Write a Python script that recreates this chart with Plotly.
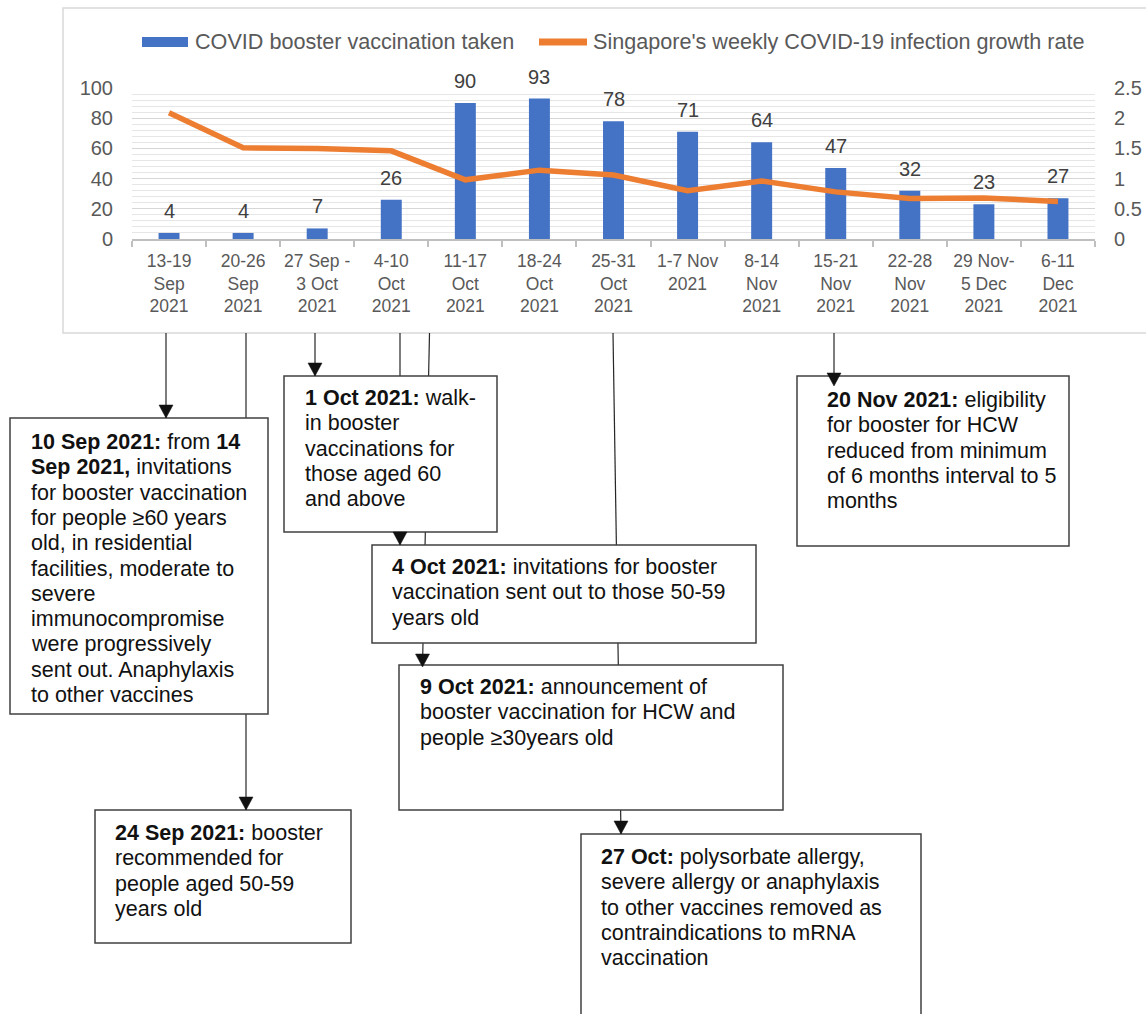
import plotly.graph_objects as go

W, H = 1146, 1014

# ---------------- data ----------------
weeks = [
    "13-19<br>Sep<br>2021", "20-26<br>Sep<br>2021", "27 Sep -<br>3 Oct<br>2021",
    "4-10<br>Oct<br>2021", "11-17<br>Oct<br>2021", "18-24<br>Oct<br>2021",
    "25-31<br>Oct<br>2021", "1-7 Nov<br>2021", "8-14<br>Nov<br>2021",
    "15-21<br>Nov<br>2021", "22-28<br>Nov<br>2021", "29 Nov-<br>5 Dec<br>2021",
    "6-11<br>Dec<br>2021",
]
booster_taken = [4, 4, 7, 26, 90, 93, 78, 71, 64, 47, 32, 23, 27]
growth_rate = [2.09, 1.51, 1.50, 1.46, 0.98, 1.14, 1.06, 0.80, 0.96, 0.78, 0.67, 0.68, 0.62]

left_ticks = [0, 20, 40, 60, 80, 100]
right_ticks = [0, 0.5, 1, 1.5, 2, 2.5]

bar_name = "COVID booster vaccination taken"
line_name = "Singapore's weekly COVID-19 infection growth rate"

box_a_lines = ["<b>10 Sep 2021:</b> from <b>14</b>", "<b>Sep 2021,</b> invitations",
               "for booster vaccination", "for people \u226560 years", "old, in residential",
               "facilities, moderate to", "severe", "immunocompromise",
               "were progressively", "sent out. Anaphylaxis", "to other vaccines"]
box_b_lines = ["<b>1 Oct 2021:</b> walk-", "in booster", "vaccinations for",
               "those aged 60", "and above"]
box_c_lines = ["<b>4 Oct 2021:</b> invitations for booster",
               "vaccination sent out to those 50-59", "years old"]
box_d_lines = ["<b>9 Oct 2021:</b> announcement of", "booster vaccination for HCW and",
               "people \u226530years old"]
box_e_lines = ["<b>27 Oct:</b> polysorbate allergy,", "severe allergy or anaphylaxis",
               "to other vaccines removed as", "contraindications to mRNA", "vaccination"]
box_f_lines = ["<b>20 Nov 2021:</b> eligibility", "for booster for HCW",
               "reduced from minimum", "of 6 months interval to 5", "months"]
box_g_lines = ["<b>24 Sep 2021:</b> booster", "recommended for",
               "people aged 50-59", "years old"]

# ---------------- helpers (pixel -> paper) ----------------
def px(x):
    return x / W

def py(y):
    return 1 - y / H

FONT = "Liberation Sans, Arial, sans-serif"
GRAY_TXT = "#595959"

fig = go.Figure()
fig.add_trace(go.Bar(x=weeks, y=booster_taken, name=bar_name,
                     marker=dict(color="#4472C4", line=dict(width=0)),
                     yaxis="y", showlegend=False))
fig.add_trace(go.Scatter(x=weeks, y=growth_rate, name=line_name, mode="lines",
                         line=dict(color="#ED7D31", width=5.5),
                         yaxis="y2", showlegend=False))

annotations = []
# data labels above bars
for w, v in zip(weeks, booster_taken):
    annotations.append(dict(x=w, y=v, xref="x", yref="y", text=str(v), showarrow=False,
                            yanchor="middle", yshift=22,
                            font=dict(family=FONT, size=20, color="#404040")))

# custom legend
annotations.append(dict(x=px(193), y=py(42), xref="paper", yref="paper", text=bar_name,
                        showarrow=False, xanchor="left", yanchor="middle",
                        font=dict(family=FONT, size=21.6, color=GRAY_TXT)))
annotations.append(dict(x=px(591), y=py(42), xref="paper", yref="paper", text=line_name,
                        showarrow=False, xanchor="left", yanchor="middle",
                        font=dict(family=FONT, size=21.6, color=GRAY_TXT)))

shapes = []
# chart border
shapes.append(dict(type="rect", xref="paper", yref="paper", x0=px(63), y0=py(333),
                   x1=px(1160), y1=py(8), line=dict(color="#D9D9D9", width=1.5),
                   fillcolor="rgba(0,0,0,0)", layer="below"))
# legend symbols
shapes.append(dict(type="rect", xref="paper", yref="paper", x0=px(142), y0=py(47),
                   x1=px(188), y1=py(37), line=dict(width=0), fillcolor="#4472C4"))
shapes.append(dict(type="line", xref="paper", yref="paper", x0=px(539), y0=py(42),
                   x1=px(587), y1=py(42), line=dict(color="#ED7D31", width=7)))

# connectors (pixel coords): x0, y0, x1, y1
connectors = [
    (166, 333, 166, 418),
    (246, 333, 246, 810),
    (315, 333, 315, 376),
    (400, 333, 400, 545),
    (429.5, 333, 422.5, 667),
    (613, 333, 621, 834),
    (834, 333, 834, 386),
]
for x0, y0, x1, y1 in connectors:
    shapes.append(dict(type="line", xref="paper", yref="paper", x0=px(x0), y0=py(y0),
                       x1=px(x1), y1=py(y1), line=dict(color="#262626", width=1.2)))

# boxes: (x0, y0, x1, y1, text_x, first_line_y, lines)
boxes = [
    (10, 418, 268, 714, 29, 442, box_a_lines),
    (284, 376, 497, 532, 303, 398, box_b_lines),
    (372, 545, 756, 643, 390, 567, box_c_lines),
    (399, 665, 783, 810, 418, 687, box_d_lines),
    (581, 834, 921, 1030, 599, 857, box_e_lines),
    (797, 376, 1069, 546, 825, 400, box_f_lines),
    (95, 810, 351, 943, 113, 833, box_g_lines),
]
LINE_H = 25.3
for x0, y0, x1, y1, tx, ty, lines in boxes:
    shapes.append(dict(type="rect", xref="paper", yref="paper", x0=px(x0), y0=py(y1),
                       x1=px(x1), y1=py(y0), line=dict(color="#404040", width=1.5),
                       fillcolor="white"))
    for i, t in enumerate(lines):
        annotations.append(dict(x=px(tx), y=py(ty + i * LINE_H), xref="paper", yref="paper",
                                text=t, showarrow=False, xanchor="left", yanchor="middle",
                                font=dict(family=FONT, size=21.5, color="#111111")))

# arrowheads at connector ends
for x0, y0, x1, y1 in connectors:
    path = "M {a},{b} L {c},{d} L {e},{f} Z".format(
        a=px(x1 - 7), b=py(y1 - 13), c=px(x1 + 7), d=py(y1 - 13), e=px(x1), f=py(y1))
    shapes.append(dict(type="path", xref="paper", yref="paper", path=path,
                       fillcolor="#111111", line=dict(color="#111111", width=0.5)))

fig.update_layout(
    width=W, height=H,
    margin=dict(l=0, r=0, t=0, b=0),
    paper_bgcolor="white", plot_bgcolor="white",
    bargap=0.717,
    shapes=shapes, annotations=annotations,
    showlegend=False,
    font=dict(family=FONT, color=GRAY_TXT),
    xaxis=dict(domain=[px(132), px(1095)], type="category",
               showline=True, linecolor="#BFBFBF", linewidth=1.5,
               ticks="outside", tickson="boundaries", ticklen=6, tickcolor="#BFBFBF",
               tickwidth=1.5, tickfont=dict(family=FONT, size=17.5, color=GRAY_TXT),
               ticklabelstandoff=5,
               showgrid=False, automargin=False, tickangle=0),
    yaxis=dict(domain=[py(239), py(88)], range=[0, 100], tickvals=left_ticks,
               showgrid=True, gridcolor="#D6D6D6", gridwidth=1.3,
               minor=dict(dtick=4, showgrid=True, gridcolor="#E6E6E6", gridwidth=1),
               zeroline=False, showline=False, ticks="",
               ticklabelstandoff=18,
               tickfont=dict(family=FONT, size=20, color=GRAY_TXT), automargin=False),
    yaxis2=dict(overlaying="y", side="right", range=[0, 2.5], tickvals=right_ticks,
                showgrid=False, zeroline=False, showline=False, ticks="",
                ticklabelstandoff=18,
                tickfont=dict(family=FONT, size=20, color=GRAY_TXT), automargin=False),
)

fig.write_html("out.html", config={"displayModeBar": False},
               post_script="document.body.style.margin='0';document.body.style.overflow='hidden';")
